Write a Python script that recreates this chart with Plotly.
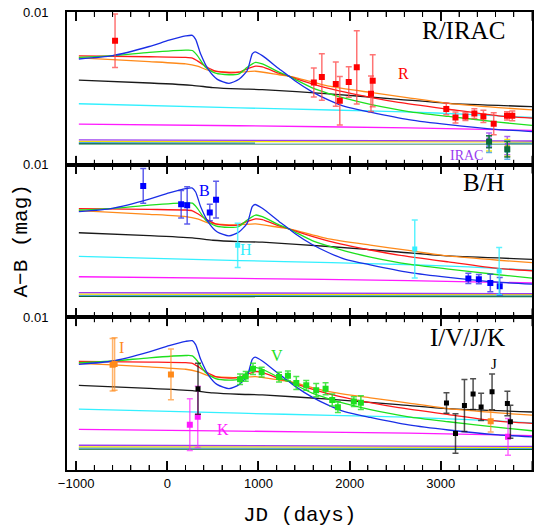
import numpy as np
import plotly.graph_objects as go

# ---------------- model curves (values in units of 1e-3 mag) ----------------
blue_days = [-970, -600, -198, 20, 202, 275, 311, 366, 457, 549, 677, 786, 877, 932, 962, 1042, 1225, 1333, 1407, 1589, 1771, 1954, 2227, 2647, 3084, 3631, 4000]
blue_vals = [6.92, 7.14, 7.74, 8.15, 8.43, 8.47, 8.21, 7.25, 6.17, 5.59, 5.33, 5.59, 6.17, 7.25, 7.39, 7.14, 6.28, 5.80, 5.46, 4.77, 4.23, 3.80, 3.44, 2.95, 2.62, 2.30, 2.17]

green_days = [-970, -600, -198, 202, 275, 330, 420, 530, 677, 786, 877, 968, 1042, 1225, 1333, 1407, 1589, 1771, 1954, 2227, 2647, 3084, 3631, 4000]
green_vals = [7.03, 7.14, 7.35, 7.50, 7.48, 7.14, 6.38, 5.99, 5.89, 5.95, 6.38, 6.70, 6.60, 6.06, 5.80, 5.57, 5.03, 4.66, 4.34, 3.95, 3.48, 3.16, 2.79, 2.57]

red_days = [-970, -198, 202, 275, 330, 420, 530, 677, 786, 877, 968, 1042, 1225, 1333, 1407, 1771, 2227, 2537, 3084, 3631, 4000]
red_vals = [7.12, 7.07, 7.03, 6.98, 6.80, 6.45, 6.12, 6.02, 6.06, 6.28, 6.45, 6.40, 5.99, 5.80, 5.64, 4.99, 4.41, 4.08, 3.63, 3.20, 3.05]

orange_days = [-970, -600, -198, 202, 330, 457, 677, 786, 968, 1225, 1333, 1407, 1771, 2227, 2647, 3084, 3631, 4000]
orange_vals = [6.99, 6.88, 6.75, 6.60, 6.45, 6.17, 6.06, 6.06, 6.12, 5.89, 5.80, 5.70, 5.14, 4.73, 4.38, 4.02, 3.74, 3.59]

black_days = [-970, -198, 275, 500, 786, 1042, 1771, 2537, 3084, 4000]
black_vals = [5.54, 5.35, 5.20, 5.05, 4.96, 4.92, 4.64, 4.28, 4.02, 3.80]

cyan_days = [-970, 800, 1800, 2600, 3300, 4000]
cyan_vals = [3.99, 3.72, 3.58, 3.46, 3.30, 3.09]

magenta_days = [-970, 786, 2647, 4000]
magenta_vals = [2.66, 2.55, 2.41, 2.25]

purple_days = [-970, 4000]
purple_vals = [1.62, 1.55]
yellow_days = [-970, 4000]
yellow_vals = [1.52, 1.49]
ltblue_days = [-970, 4000]
ltblue_vals = [1.44, 1.42]
dkgreen_days = [-970, 4000]
dkgreen_vals = [1.37, 1.36]

# ---------------- observations (values / errors in 1e-3 mag) ----------------
R_days = [-573, 1607, 1695, 1848, 1892, 1990, 2078, 2234, 2253, 3060, 3161, 3270, 3368, 3467, 3580, 3726, 3784]
R_vals = [8.12, 5.39, 5.74, 5.28, 4.19, 5.41, 6.38, 4.64, 5.50, 3.65, 3.09, 3.16, 3.35, 3.16, 2.68, 3.20, 3.20]
R_errs = [1.75, 0.95, 1.52, 1.45, 1.59, 1.00, 2.40, 1.16, 1.70, 0.38, 0.36, 0.26, 0.32, 0.40, 0.72, 0.27, 0.32]

IRAC_days = [3529, 3729]
IRAC1_vals = [1.62, 1.25]
IRAC1_errs = [0.45, 0.60]
IRAC2_vals = [1.40, 1.10]
IRAC2_errs = [0.50, 0.55]
IRAC3_vals = [1.35, 0.95]
IRAC3_errs = [0.55, 0.60]
IRAC4_vals = [1.50, 1.01]
IRAC4_errs = [0.40, 0.50]

B_days = [-264, 152, 218, 466, 535, 3302, 3417, 3543, 3646]
B_vals = [8.61, 7.41, 7.34, 6.87, 7.71, 2.55, 2.50, 2.25, 2.03]
B_errs = [1.14, 0.90, 1.22, 0.54, 1.20, 0.34, 0.30, 0.57, 0.58]

H_days = [772, 2714, 3640]
H_vals = [4.72, 4.48, 3.04]
H_errs = [1.45, 1.90, 1.54]

I_days = [-600, -578, 40, 3547]
I_vals = [6.90, 6.94, 6.26, 3.19]
I_errs = [1.72, 1.72, 1.66, 0.70]

V_days = [798, 860, 940, 1035, 1225, 1323, 1415, 1524, 1633, 1736, 1809, 1871, 2046, 2123]
V_vals = [5.94, 6.13, 6.63, 6.41, 6.09, 6.17, 5.70, 5.55, 5.23, 5.32, 4.58, 4.11, 4.48, 4.41]
V_errs = [0.34, 0.32, 0.37, 0.32, 0.32, 0.32, 0.43, 0.32, 0.43, 0.39, 0.39, 0.34, 0.32, 0.45]

J_days = [337, 3062, 3161, 3259, 3354, 3442, 3562, 3730, 3763]
J_vals = [5.32, 4.39, 2.39, 4.22, 4.97, 4.13, 5.12, 4.35, 3.16]
J_errs = [1.67, 0.67, 1.30, 1.70, 1.00, 0.89, 1.17, 0.80, 1.08]

K_days = [247, 334, 3737]
K_vals = [2.97, 3.48, 2.17]
K_errs = [1.70, 2.00, 1.20]

panel_titles = ["R/IRAC", "B/H", "I/V/J/K"]
major_step = 1000
minor_step = 200

S = 1e-3  # mmag -> mag

curves = [
    (dkgreen_days, dkgreen_vals, "#0b6b3a"),
    (ltblue_days, ltblue_vals, "#4fa3e0"),
    (yellow_days, yellow_vals, "#f2e600"),
    (purple_days, purple_vals, "#9a3cf0"),
    (magenta_days, magenta_vals, "#ff1aff"),
    (cyan_days, cyan_vals, "#33f0ff"),
    (black_days, black_vals, "#1a1a1a"),
    (orange_days, orange_vals, "#ff8a1a"),
    (red_days, red_vals, "#ff1a1a"),
    (green_days, green_vals, "#1ee01e"),
    (blue_days, blue_vals, "#1a2ee6"),
]

fig = go.Figure()

def add_obs(days, vals, errs, color, ecolor, xa, ya, size=6):
    fig.add_trace(go.Scatter(
        x=days, y=[v * S for v in vals], xaxis=xa, yaxis=ya, mode="markers",
        marker=dict(symbol="square", size=size, color=color),
        error_y=dict(type="data", array=[e * S for e in errs], color=ecolor,
                     thickness=1.5, width=3),
        showlegend=False, hoverinfo="skip"))

axes = [("x", "y"), ("x2", "y2"), ("x3", "y3")]
for xa, ya in axes:
    for d, v, c in curves:
        fig.add_trace(go.Scatter(x=d, y=[q * S for q in v], xaxis=xa, yaxis=ya,
                                 mode="lines", line=dict(color=c, width=1.3, shape="spline", smoothing=0.6),
                                 showlegend=False, hoverinfo="skip"))

# Panel 1: R / IRAC
add_obs(R_days, R_vals, R_errs, "#ff0000", "rgba(255,70,70,0.75)", "x", "y")
add_obs(IRAC_days, IRAC1_vals, IRAC1_errs, "#9a3cf0", "rgba(154,60,240,0.8)", "x", "y", 5)
add_obs(IRAC_days, IRAC2_vals, IRAC2_errs, "#f2e600", "rgba(242,230,0,0.9)", "x", "y", 5)
add_obs(IRAC_days, IRAC3_vals, IRAC3_errs, "#4fa3e0", "rgba(79,163,224,0.9)", "x", "y", 5)
add_obs(IRAC_days, IRAC4_vals, IRAC4_errs, "#0b6b3a", "rgba(11,107,58,0.9)", "x", "y", 6)

# Panel 2: B / H
add_obs(B_days, B_vals, B_errs, "#0000ff", "rgba(40,40,230,0.75)", "x2", "y2")
add_obs(H_days, H_vals, H_errs, "#33f0ff", "rgba(51,240,255,0.8)", "x2", "y2", 5)

# Panel 3: I / V / J / K
add_obs(I_days, I_vals, I_errs, "#ff8a1a", "rgba(255,138,26,0.65)", "x3", "y3")
add_obs(K_days, K_vals, K_errs, "#ff1aff", "rgba(255,26,255,0.65)", "x3", "y3")
add_obs(J_days, J_vals, J_errs, "#000000", "rgba(20,20,20,0.75)", "x3", "y3", 5)
add_obs(V_days, V_vals, V_errs, "#1ee01e", "rgba(30,224,30,0.8)", "x3", "y3")

ax_common = dict(range=[-1100, 4000], tickmode="linear", tick0=0, dtick=major_step,
                 ticks="inside", ticklen=9, tickwidth=1.5, tickcolor="#111111",
                 showline=True, linewidth=2, linecolor="black",
                 mirror="ticks", showgrid=False, zeroline=False,
                 minor=dict(dtick=minor_step, ticks="inside", ticklen=5, tickwidth=1.2,
                            tickcolor="#111111", showgrid=False))
ay_common = dict(range=[0, 0.01], tickmode="array", tickvals=[0.01], ticktext=["0.01"],
                 ticks="outside", ticklen=14, tickcolor="rgba(0,0,0,0)",
                 showline=True, linewidth=2, linecolor="black", mirror=True,
                 showgrid=False, zeroline=False)

h = 1.0 / 3
fig.update_layout(
    width=546, height=529, margin=dict(l=67, r=14, t=5, b=59),
    paper_bgcolor="white", plot_bgcolor="white", showlegend=False,
    font=dict(family="Liberation Sans", size=13, color="black"),
    xaxis=dict(ax_common, anchor="y", showticklabels=False),
    xaxis2=dict(ax_common, anchor="y2", matches="x", showticklabels=False),
    xaxis3=dict(ax_common, anchor="y3", matches="x", showticklabels=True),
    yaxis=dict(ay_common, domain=[2 * h, 1], anchor="x"),
    yaxis2=dict(ay_common, domain=[h, 2 * h], anchor="x2"),
    yaxis3=dict(ay_common, domain=[0, h], anchor="x3"),
)

# Tick marks on the top and bottom frame of each panel (placed on the x scale,
# in the panel's domain coordinates) so they are always visible.
shapes = []
panel_px = (529 - 5 - 59) / 3.0
for xa, ya in axes:
    for t in range(-1000, 4001, minor_step):
        ln = (9 if t % major_step == 0 else 5) / panel_px
        for y0, y1 in ((0, ln), (1, 1 - ln)):
            shapes.append(dict(type="line", xref=xa, yref=ya + " domain", x0=t, x1=t,
                               y0=y0, y1=y1, line=dict(color="black", width=1), layer="above"))
fig.update_layout(shapes=shapes)

ann = []
serif = "Liberation Serif"
for (xa, ya), t, yv in zip(axes, panel_titles, [8.81, 8.8, 8.67]):
    ann.append(dict(x=3730, y=yv * S, xref=xa, yref=ya, text=t, showarrow=False,
                    xanchor="right", yanchor="middle", font=dict(family=serif, size=25, color="black")))

small = [
    ("R", 2592, 5.94, "x", "y", "#ff0000", 16),
    ("IRAC", 3281, 0.62, "x", "y", "#9a3cf0", 14),
    ("B", 404, 8.34, "x2", "y2", "#0000ff", 16),
    ("H", 860, 4.46, "x2", "y2", "#33f0ff", 16),
    ("I", -497, 8.03, "x3", "y3", "#ff8a1a", 16),
    ("V", 1199, 7.48, "x3", "y3", "#1ee01e", 16),
    ("K", 615, 2.65, "x3", "y3", "#ff1aff", 16),
    ("J", 3584, 6.95, "x3", "y3", "#000000", 15),
]
for t, xv, yv, xa, ya, c, fs in small:
    ann.append(dict(x=xv, y=yv * S, xref=xa, yref=ya, text=t, showarrow=False,
                    xanchor="center", yanchor="middle", font=dict(family=serif, size=fs, color=c)))

ann.append(dict(x=-0.10, y=0.5, xref="paper", yref="paper", text="A\u2212B (mag)", showarrow=False,
                xanchor="center", yanchor="middle", textangle=-90,
                font=dict(family="Liberation Mono", size=21, color="black")))
ann.append(dict(x=0.5, y=-0.10, xref="paper", yref="paper", text="JD (days)", showarrow=False,
                yanchor="middle", font=dict(family="Liberation Mono", size=21, color="black")))
fig.update_layout(annotations=ann)

fig.write_html("out.html")
